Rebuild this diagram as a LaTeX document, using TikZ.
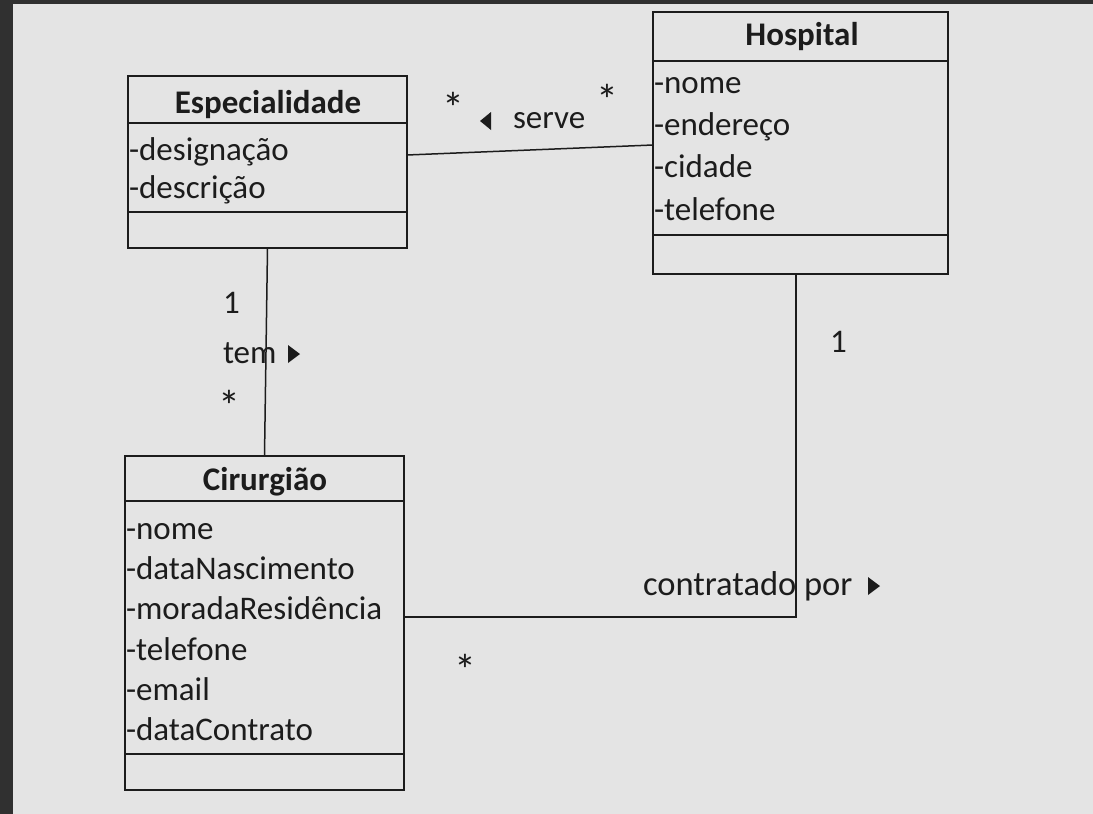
\documentclass[tikz,border=0pt]{standalone}
\usepackage{fontspec}
\setmainfont{Carlito}
\definecolor{paper}{RGB}{228,228,228}
\definecolor{ink}{RGB}{28,28,28}
\definecolor{frame}{RGB}{48,48,48}
\begin{document}
\begin{tikzpicture}[x=1pt,y=-1pt,
  every node/.style={inner sep=0pt, outer sep=0pt, text=ink, font=\fontsize{33}{40}\selectfont},
  classbox/.style={draw=ink, line width=2.2pt, rectangle, anchor=north west},
  classtitle/.style={anchor=base, font=\fontsize{33}{40}\selectfont\bfseries},
  attr/.style={anchor=base west},
  lbl/.style={anchor=base west},
  mult/.style={anchor=base, font=\fontsize{44}{50}\selectfont},
  conn/.style={draw=ink, line width=1.5pt},
  sepline/.style={draw=ink, line width=2pt},
  roledir/.style={fill=ink}]

\useasboundingbox (0,0) rectangle (1093,814);
\fill[frame] (0,0) rectangle (1093,814);
\fill[paper] (13,4) rectangle (1093,814);

% ---------- Especialidade ----------
\node[classbox, minimum width=279pt, minimum height=172pt] (esp) at (128,76) {};
\draw[sepline] (esp.west |- 0,123) -- (esp.east |- 0,123);
\draw[sepline] (esp.west |- 0,212) -- (esp.east |- 0,212);
\node[classtitle] (espT) at (268,113) {Especialidade};
\node[attr] (espA1) at (129,160) {-designação};
\node[attr] (espA2) at (129,198) {-descrição};

% ---------- Hospital ----------
\node[classbox, minimum width=295pt, minimum height=262pt] (hosp) at (653,12) {};
\draw[sepline] (hosp.west |- 0,61) -- (hosp.east |- 0,61);
\draw[sepline] (hosp.west |- 0,235) -- (hosp.east |- 0,235);
\node[classtitle] (hospT) at (802,45) {Hospital};
\node[attr] (hospA1) at (654,93) {-nome};
\node[attr] (hospA2) at (654,135) {-endereço};
\node[attr] (hospA3) at (654,177) {-cidade};
\node[attr] (hospA4) at (654,220) {-telefone};

% ---------- Cirurgião ----------
\node[classbox, minimum width=279pt, minimum height=334pt] (cir) at (125,456) {};
\draw[sepline] (cir.west |- 0,501) -- (cir.east |- 0,501);
\draw[sepline] (cir.west |- 0,754) -- (cir.east |- 0,754);
\node[classtitle] (cirT) at (265,490) {Cirurgião};
\node[attr] (cirA1) at (126,539) {-nome};
\node[attr] (cirA2) at (126,579) {-dataNascimento};
\node[attr] (cirA3) at (126,619) {-moradaResidência};
\node[attr] (cirA4) at (126,660) {-telefone};
\node[attr] (cirA5) at (126,700) {-email};
\node[attr] (cirA6) at (126,740) {-dataContrato};

% ---------- serve ----------
\draw[conn] (esp.east |- 0,155) -- (hosp.west |- 0,145);
\node[mult] (serveM1) at (453,123) {*};
\node[mult] (serveM2) at (607,115) {*};
\fill[roledir] (491,112) -- (491,130) -- (480,121) -- cycle;
\node[lbl] (serveL) at (513,128) {serve};

% ---------- tem ----------
\draw[conn] (esp.south) -- (cir.north);
\node[lbl] (temM1) at (223,313) {1};
\node[lbl] (temL) at (223,363) {tem};
\fill[roledir] (288,345) -- (288,363) -- (300,354) -- cycle;
\node[mult] (temM2) at (229,421) {*};

% ---------- contratado por ----------
\coordinate (bend) at (796,617);
\draw[conn] (hosp.south -| bend) -- (bend) -- (cir.east |- bend);
\node[lbl] (contM1) at (830,352) {1};
\node[lbl, font=\fontsize{34.5}{40}\selectfont] (contL) at (643,595) {contratado por};
\fill[roledir] (868,577) -- (868,595) -- (880,586) -- cycle;
\node[mult] (contM2) at (465,685) {*};
\end{tikzpicture}
\end{document}
